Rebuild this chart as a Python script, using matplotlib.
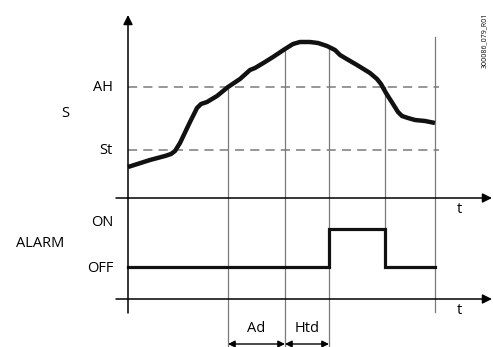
import numpy as np
import matplotlib.pyplot as plt

# signal S (time, level), y grows downward like the image
s_t = [128, 150, 165, 171, 175, 180, 190, 197, 201, 207, 217, 228, 240, 250, 255,
       265, 273, 285, 293, 300, 310, 318, 327, 335, 340, 345, 357, 370, 377, 381,
       386, 393, 398, 402, 408, 415, 425, 435]
s_v = [167, 160, 156, 154, 151, 143, 122, 108, 104, 102, 96, 87, 79, 70, 68,
       62, 57, 49, 44, 42, 42, 43, 46, 50, 55, 58, 65, 73, 79, 84,
       93, 104, 112, 116, 118, 120, 121, 123]

# thresholds
AH, St = 87, 150
# alarm states
alarm_t = [128, 329, 329, 385, 385, 435]
OFF, ON = 267, 229
alarm_v = [OFF, OFF, ON, ON, OFF, OFF]

# marker times with (top, bottom)
markers = [(228, 87, 347), (285, 49, 347), (329, 46, 347), (385, 87, 267), (435, 37, 312)]

t1_y, t2_y = 198, 299
y_axis_x = 128

fig = plt.figure(figsize=(4.93, 3.47), dpi=100)
ax = fig.add_axes([0, 0, 1, 1])
ax.set_xlim(0, 493)
ax.set_ylim(347, 0)
ax.axis('off')

plt.rcParams['font.family'] = ['Open Sans', 'DejaVu Sans']
fs = 10.5

gray = '#7a7a7a'
# thresholds dashed
for lvl in (AH, St):
    ax.plot([y_axis_x, 439], [lvl, lvl], color=gray, lw=1.1, dashes=(6, 4))

# vertical markers
for x, top, bot in markers:
    ax.plot([x, x], [top, bot], color=gray, lw=0.9)

# axes
arr = dict(arrowstyle='-|>', color='black', lw=1.1, mutation_scale=14, shrinkA=0, shrinkB=0)
ax.annotate('', xy=(y_axis_x, 15), xytext=(y_axis_x, 313), arrowprops=arr)
ax.annotate('', xy=(492, t1_y), xytext=(116, t1_y), arrowprops=arr)
ax.annotate('', xy=(492, t2_y), xytext=(116, t2_y), arrowprops=arr)

# curve and alarm
ax.plot(s_t, s_v, color='#111111', lw=3.2, solid_capstyle='butt', solid_joinstyle='round')
ax.plot(alarm_t, alarm_v, color='#111111', lw=2.3, solid_joinstyle='miter')

# dimension arrows
darr = dict(arrowstyle='<|-|>', color='black', lw=1.0, mutation_scale=10, shrinkA=0, shrinkB=0)
ax.annotate('', xy=(228, 344), xytext=(285, 344), arrowprops=darr)
ax.annotate('', xy=(285, 344), xytext=(329, 344), arrowprops=darr)

# labels
ax.text(113, AH, 'AH', ha='right', va='center', fontsize=fs)
ax.text(113, St, 'St', ha='right', va='center', fontsize=fs)
ax.text(65, 113, 'S', ha='center', va='center', fontsize=fs)
ax.text(113, 222, 'ON', ha='right', va='center', fontsize=fs)
ax.text(113, 268, 'OFF', ha='right', va='center', fontsize=fs)
ax.text(40, 243, 'ALARM', ha='center', va='center', fontsize=fs)
ax.text(459, 209, 't', ha='center', va='center', fontsize=fs)
ax.text(459, 310, 't', ha='center', va='center', fontsize=fs)
ax.text(256, 329, 'Ad', ha='center', va='center', fontsize=fs)
ax.text(307, 329, 'Htd', ha='center', va='center', fontsize=fs)
ax.text(484, 40, '300086_079_R01', rotation=90, ha='center', va='center', fontsize=5)

fig.savefig('out.png', dpi=100)
